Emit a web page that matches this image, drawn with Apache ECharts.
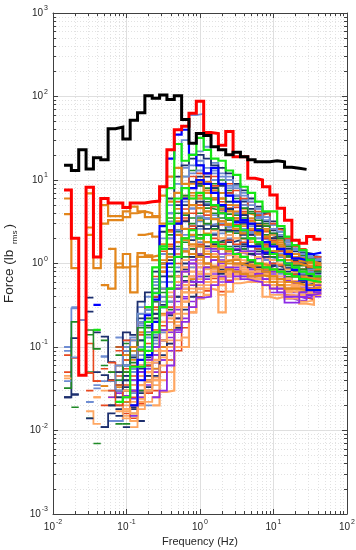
<!DOCTYPE html>
<html>
<head>
  <meta charset="utf-8" />
  <title>Force spectra, 1/3 octave bands</title>
  <script src="https://cdn.jsdelivr.net/npm/echarts@6/dist/echarts.min.js"></script>
  <style>
    html, body { margin: 0; padding: 0; background: #fff; }
    #chart { width: 356px; height: 550px; }
  </style>
</head>
<body>
  <div id="chart"></div>
  <script type="text/javascript">
    const _ = null;

    // 1/3 octave band edges (Hz), band centres 0.016 ... 40 Hz
    const bandEdges = [0.01413, 0.01778, 0.02239, 0.02818, 0.03548, 0.04467, 0.05623, 0.07079, 0.08913,
      0.1122, 0.1413, 0.1778, 0.2239, 0.2818, 0.3548, 0.4467, 0.5623, 0.7079, 0.8913,
      1.122, 1.413, 1.778, 2.239, 2.818, 3.548, 4.467, 5.623, 7.079, 8.913,
      11.22, 14.13, 17.78, 22.39, 28.18, 35.48, 44.67];

    // axis decades and minor steps
    const xDecades = [0.01, 0.1, 1, 10];
    const yDecades = [0.001, 0.01, 0.1, 1, 10, 100];
    const minorSteps = [2, 3, 4, 5, 6, 7, 8, 9];

    // force levels per band (lb rms), null = no value
    const black = [15, 13, 23, 13.5, 18.5, 17.5, 41, 43, 31, 52,
      64, 102, 95, 104, 92, 102, 53, 27.5, 36, 34,
      25, 23, 20, 21.5, 19, 17.5, 16.5, 16.5, 17, 16.5,
      14.2, 13.8, 13.4];
    const red = [7.6, 2.0, 0.046, 8.2, 1.2, 6.0, 5.3, 5.3, 4.7, 5.3,
      5.3, 5.5, 5.6, 8.3, 23, 40, 44, 63, 88, 37,
      36, 26, 38, 19, 19, 10.5, 10, 8.3, 6.6, 4.6,
      3.3, 1.9, 1.75, 2.1, 1.95];

    const orange1 = [6.0, _, _, 6.9, 0.88, 5.0, 3.7, 3.7, 4.2, 4.8,
      4.2, 3.6, 3.6, 6.5, 11, 14, 9, 8, 9.5, 7,
      6, 4.5, 4.2, 3.5, 3.1, 2.6, 2.3, 2.1, 1.8, 1.6,
      1.4, 1.3, 1.15, 1.05, 1.0];
    const orange2 = [3.9, 0.88, _, 2.7, _, 3.0, 3.3, 3.3, 3.6, 4.0,
      4.2, 4.0, 3.7, 3.0, 5.5, 7, 6, 5, 4.6, 4.2,
      3.4, 3.2, 2.9, 2.6, 2.3, 2.0, 1.8, 1.6, 1.4, 1.25,
      1.1, 1.0, 0.95, 0.9, 0.88];
    const orange3 = [_, _, _, 2.2, _, _, _, _, _, _,
      2.2, 2.3, 2.1, 1.7, 2.4, 3.2, 2.6, 2.2, 2.0, 1.8,
      1.6, 1.5, 1.4, 1.3, 1.2, 1.1, 1.0, 0.95, 0.85, 0.8,
      0.75, 0.7, 0.68, 0.66, 0.64];
    const orange4 = [_, _, _, _, _, 0.55, 0.5, 1.0, 0.9, 0.45,
      1.2, 1.2, 1.25, 1.0, 1.6, 2.2, 2.0, 1.7, 1.6, 1.3,
      1.2, 1.05, 1.1, 1.0, 0.95, 0.9, 0.85, 0.8, 0.7, 0.65,
      0.6, 0.58, 0.55, 0.55, 0.6];
    const orange5 = [_, _, _, _, _, _, 1.5, 0.9, 1.3, 0.92,
      1.33, 1.25, 1.1, 0.8, 1.2, 1.8, 1.4, 1.3, 1.2, 1.0,
      0.9, 0.8, 0.85, 0.8, 0.75, 0.7, 0.72, 0.7, 0.6, 0.55,
      0.5, 0.5, 0.48, 0.5, 0.52];

    const blue1 = [_, _, _, _, _, _, _, _, _, 0.02,
      0.07, 0.24, 0.37, 2.8, 18, 35, 40, 20, 15, 12,
      14, 9, 6.5, 5.5, 3.3, 3.0, 2.5, 1.8, 1.6, 1.5,
      1.3, 1.15, 1.1, 1.3, 1.35];
    const blue2 = [_, _, _, _, 0.32, _, _, _, _, _,
      0.04, 0.08, 0.2, 0.3, 1.0, 3, 6, 8, 10, 9,
      7, 5, 3.5, 3.1, 3.1, 1.6, 1.6, 1.35, 1.3, 1.1,
      1.0, 0.84, 0.63, 0.48, 0.48];
    const green1 = [_, _, _, _, _, _, _, _, _, _,
      _, 0.3, 0.9, 1.6, 8, 27, 17, 20, 32, 23,
      18, 17, 13, 11.5, 8.3, 7, 5.5, 4.2, 4.2, 2.8,
      2.1, 1.66, 1.45, 1.1, 0.9];
    const green2 = [_, _, _, _, _, _, _, _, _, _,
      0.093, 0.2, 0.44, 1.5, 3, 6, 8, 6, 7, 6,
      5, 4, 3.5, 2.8, 2.5, 2.0, 1.8, 1.5, 1.3, 1.1,
      1.0, 0.9, 0.8, 0.75, 0.7];
    const green3 = [_, _, _, _, 0.16, _, _, 0.022, 0.025, 0.058,
      0.058, 0.09, 0.15, 0.3, 0.5, 1.2, 2.0, 2.5, 2.0, 2.2,
      1.8, 1.6, 1.5, 1.3, 1.2, 1.1, 1.0, 0.9, 0.85, 0.8,
      0.75, 0.7, 0.65, 0.62, 0.6];

    const purple1 = [_, _, _, _, _, _, _, _, _, _,
      _, _, 0.025, 0.03, 0.06, 0.16, 0.2, 0.3, 0.39, 0.4,
      0.55, 0.7, 0.6, 0.8, 0.7, 0.7, 0.75, 0.65, 0.6, 0.5,
      0.34, 0.34, 0.45, 0.5, 0.45];
    const purple2 = [_, _, _, _, _, _, _, _, _, 0.03,
      0.05, 0.07, 0.1, 0.16, 0.26, 0.5, 0.8, 1.0, 0.6, 0.9,
      1.1, 0.8, 0.9, 0.7, 0.65, 0.62, 0.6, 0.55, 0.5, 0.45,
      0.4, 0.4, 0.38, 0.42, 0.44];
    const peach1 = [_, _, _, _, _, _, _, _, _, _,
      _, _, 0.02, 0.029, 0.03, 0.1, 0.1, 0.26, 0.38, 0.42,
      0.6, 0.26, 0.46, 0.58, 0.6, 0.6, 0.6, 0.4, 0.38, 0.4,
      0.42, 0.4, 0.33, 0.32, 0.42];
    const peach2 = [_, _, _, _, _, _, _, _, _, _,
      _, 0.03, 0.04, 0.06, 0.1, 0.18, 0.35, 0.45, 0.5, 0.5,
      0.48, 0.55, 0.7, 0.75, 0.7, 0.65, 0.7, 0.55, 0.5, 0.5,
      0.47, 0.45, 0.5, 0.45, 0.5];
    const peach3 = [_, _, _, _, _, _, _, _, _, 0.02,
      0.035, 0.05, 0.09, 0.12, 0.22, 0.6, 0.9, 0.8, 1.0, 0.75,
      0.85, 0.9, 0.8, 0.95, 0.85, 0.8, 0.75, 0.75, 0.65, 0.6,
      0.55, 0.52, 0.55, 0.6, 0.58];
    const peach4 = [_, _, _, _, _, _, _, _, 0.018, 0.016,
      0.022, 0.04, 0.07, 0.2, 0.4, 0.3, 0.55, 0.7, 0.75, 0.6,
      0.7, 0.65, 0.75, 0.65, 0.8, 0.75, 0.65, 0.6, 0.55, 0.55,
      0.5, 0.48, 0.42, 0.45, 0.46];

    // the dense bundle of records
    const rec01 = [0.1, 0.29, _, _, _, 0.077, _, 0.13, 0.12, 0.13,
      0.3, 0.4, 0.65, 2.0, 5, 9, 30, 60, 62, 25,
      16, 12, 11, 8.5, 7, 5.5, 4.5, 3.6, 2.9, 2.4,
      1.9, 1.6, 1.35, 1.25, 1.2];
    const rec02 = [0.025, 0.128, _, 0.39, _, 0.133, 0.066, _, 0.09, 0.1,
      0.22, 0.28, 0.4, 1.0, 2.5, 5, 8, 9.5, 11, 11,
      10, 8.5, 7, 6.5, 5.5, 4.5, 3.6, 3.2, 2.5, 2.1,
      1.6, 1.4, 1.2, 1.1, 1.05];
    const rec03 = [0.08, _, _, 0.11, 0.039, _, _, 0.05, 0.07, 0.06,
      0.14, 0.2, 0.3, 0.8, 1.7, 3, 4.5, 6, 6.5, 7,
      7.5, 5.5, 5, 4.7, 4.2, 3.3, 2.9, 2.4, 1.9, 1.6,
      1.35, 1.15, 1.0, 0.93, 0.95];
    const rec04 = [0.032, 0.2, _, 0.16, 0.095, _, _, _, 0.05, 0.055,
      0.1, 0.15, 0.2, 0.5, 0.9, 1.6, 2.6, 3.5, 4.0, 4.6,
      4.4, 3.5, 3.9, 3.2, 3.1, 2.6, 2.3, 2.1, 1.4, 1.4,
      1.1, 0.95, 0.85, 0.8, 0.84];
    const rec05 = [0.039, _, _, 0.022, _, 0.039, _, 0.04, 0.045, 0.04,
      0.08, 0.1, 0.14, 0.3, 0.6, 0.9, 1.5, 2.1, 2.6, 2.9,
      3.0, 2.3, 2.7, 2.4, 2.3, 2.0, 1.8, 1.7, 1.2, 1.1,
      0.9, 0.8, 0.7, 0.7, 0.75];
    const rec06 = [_, _, _, 0.265, _, 0.046, 0.04, _, 0.033, 0.03,
      0.055, 0.075, 0.09, 0.2, 0.35, 0.5, 0.85, 1.2, 1.6, 1.8,
      2.2, 1.5, 1.8, 1.9, 1.7, 1.6, 1.5, 1.3, 0.95, 0.9,
      0.75, 0.7, 0.6, 0.58, 0.65];
    const rec07 = [_, _, _, _, _, _, 0.025, 0.028, 0.026, 0.024,
      0.04, 0.05, 0.065, 0.12, 0.2, 0.28, 0.5, 0.7, 1.0, 1.2,
      1.4, 1.0, 1.3, 1.35, 1.3, 1.25, 1.15, 1.1, 0.75, 0.7,
      0.62, 0.58, 0.52, 0.5, 0.6];
    const rec08 = [0.042, _, _, _, 0.025, _, 0.02, _, 0.02, 0.018,
      0.03, 0.038, 0.043, 0.075, 0.11, 0.16, 0.3, 0.45, 0.65, 0.75,
      0.95, 0.68, 0.9, 1.0, 1.05, 1.0, 0.95, 0.9, 0.6, 0.6,
      0.5, 0.5, 0.45, 0.43, 0.53];
    const rec09 = [_, 0.074, _, 0.049, _, _, _, _, 0.016, 0.014,
      0.021, 0.028, 0.03, 0.05, 0.07, 0.09, 0.17, 0.26, 0.4, 0.47,
      0.66, 0.46, 0.63, 0.74, 0.78, 0.78, 0.75, 0.74, 0.5, 0.49,
      0.42, 0.41, 0.39, 0.37, 0.47];
    const rec10 = [_, 0.019, _, _, 0.007, _, _, 0.1, 0.11, 0.09,
      0.25, 0.3, 0.5, 1.5, 3.5, 7, 11, 13, 15, 8,
      9, 10, 7.5, 6, 5, 4.2, 3.8, 3.0, 2.6, 2.0,
      1.8, 1.5, 1.25, 1.15, 1.1];
    const rec11 = [_, _, _, _, _, 0.034, _, 0.06, 0.07, 0.09,
      0.15, 0.22, 0.35, 0.9, 2.0, 3.5, 6, 7, 5, 6,
      7.5, 6, 4.5, 4.0, 4.5, 3.5, 3.0, 2.5, 2.2, 1.9,
      1.4, 1.2, 1.05, 1.0, 0.95];
    const rec12 = [_, _, _, _, 0.032, _, 0.013, 0.013, 0.025, 0.035,
      0.07, 0.09, 0.12, 0.35, 0.7, 1.2, 2.0, 2.6, 3.2, 3.4,
      3.8, 3.0, 2.2, 2.6, 2.6, 2.3, 2.0, 1.5, 1.4, 1.2,
      1.0, 0.9, 0.78, 0.75, 0.7];
    const rec13 = [_, _, _, 0.014, _, 0.011, _, 0.018, 0.022, 0.02,
      0.035, 0.06, 0.1, 0.16, 0.4, 0.7, 1.0, 1.5, 2.0, 2.2,
      1.8, 1.9, 2.0, 1.6, 1.5, 1.4, 1.6, 1.4, 1.0, 0.95,
      0.8, 0.75, 0.68, 0.65, 0.7];
    const rec14 = [_, _, _, _, _, 0.03, _, 0.017, 0.014, 0.013,
      0.025, 0.03, 0.05, 0.09, 0.15, 0.2, 0.35, 0.55, 0.8, 0.9,
      1.2, 0.8, 1.1, 1.2, 1.2, 1.1, 0.95, 0.85, 0.7, 0.65,
      0.55, 0.52, 0.48, 0.47, 0.55];
    const rec15 = [_, _, _, _, _, _, 0.065, 0.045, 0.055, 0.05,
      0.1, 0.15, 0.22, 0.5, 1.2, 2.2, 3.5, 4, 5, 4.2,
      4.8, 4.3, 3.3, 3.3, 3.0, 2.9, 2.4, 2.0, 1.6, 1.5,
      1.2, 1.0, 0.85, 0.82, 0.85];
    const rec16 = [_, _, _, _, _, _, _, _, _, _,
      0.045, 0.04, 0.055, 0.1, 0.15, 0.22, 0.38, 0.55, 0.7, 0.65,
      0.8, 0.6, 0.75, 0.85, 0.9, 0.85, 0.8, 0.8, 0.55, 0.5,
      0.45, 0.45, 0.42, 0.4, 0.5];
    const rec17 = [_, _, _, 0.14, _, _, _, 0.08, _, 0.075,
      0.12, 0.17, 0.25, 0.6, 1.3, 2.4, 3.8, 5.0, 6.0, 5.5,
      6.0, 4.8, 4.4, 3.8, 3.5, 3.0, 2.6, 2.2, 1.7, 1.6,
      1.25, 1.05, 0.95, 0.88, 0.9];
    const rec18 = [_, _, _, _, 0.025, _, _, 0.02, 0.03, 0.028,
      0.05, 0.065, 0.08, 0.15, 0.25, 0.4, 0.6, 0.9, 1.3, 1.4,
      1.6, 1.2, 1.5, 1.5, 1.4, 1.3, 1.2, 1.15, 0.85, 0.8,
      0.68, 0.62, 0.56, 0.55, 0.62];
    const rec19 = [_, _, _, 0.022, _, _, 0.013, _, 0.1, 0.08,
      0.18, 0.25, 0.45, 1.3, 3.2, 5.5, 9, 12, 13, 12,
      12, 9, 8.5, 6.5, 5.8, 5.0, 4.0, 3.3, 2.6, 2.2,
      1.7, 1.45, 1.2, 1.12, 1.1];
    const rec20 = [_, 0.027, _, _, _, _, 0.04, 0.025, 0.15, 0.14,
      0.35, 0.45, 0.8, 2.4, 6, 11, 15, 18, 20, 18,
      15, 14, 12, 9, 7.5, 6, 4.8, 4.0, 3.2, 2.6,
      2.0, 1.6, 1.35, 1.3, 1.2];
    const rec21 = [_, _, 0.21, _, 0.039, _, 0.04, _, 0.07, 0.045,
      0.14, 0.11, 0.25, 0.4, 1.2, 1.3, 3.3, 2.6, 5.5, 3.5,
      5.8, 2.9, 4.6, 2.6, 3.8, 2.2, 2.8, 1.7, 1.8, 1.1,
      1.35, 0.8, 1.2, 0.75, 1.0];
    const rec22 = [_, _, _, 0.05, _, 0.12, _, 0.035, 0.03, 0.04,
      0.05, 0.09, 0.07, 0.25, 0.28, 0.6, 0.7, 1.5, 1.3, 2.2,
      1.5, 1.8, 1.6, 2.3, 1.5, 2.0, 1.3, 1.6, 0.8, 1.1,
      0.7, 0.85, 0.55, 0.7, 0.6];
    const rec23 = [_, _, _, _, _, _, 0.05, 0.033, 0.05, 0.035,
      0.1, 0.08, 0.16, 0.25, 0.7, 0.7, 1.9, 1.6, 3.3, 2.3,
      3.4, 2.0, 3.0, 2.0, 2.8, 1.8, 2.2, 1.4, 1.4, 0.95,
      1.1, 0.7, 0.95, 0.62, 0.85];
    const rec24 = [_, 0.075, _, _, 0.035, _, 0.03, 0.06, 0.08, 0.055,
      0.19, 0.15, 0.35, 0.6, 2.0, 2.2, 5.5, 4.6, 8.5, 5.2,
      8.0, 4.4, 6.5, 4.0, 5.0, 2.8, 3.6, 2.0, 2.3, 1.3,
      1.6, 1.0, 1.2, 0.85, 1.0];
    const rec25 = [_, _, _, _, _, 0.011, 0.016, _, 0.03, 0.019,
      0.05, 0.04, 0.08, 0.1, 0.24, 0.22, 0.62, 0.6, 1.25, 0.9,
      1.7, 0.85, 1.5, 1.1, 1.6, 1.05, 1.4, 0.9, 0.95, 0.6,
      0.75, 0.5, 0.65, 0.45, 0.6];
    const rec26 = [_, _, _, _, _, _, _, 0.03, 0.017, 0.022,
      0.024, 0.045, 0.035, 0.09, 0.09, 0.2, 0.25, 0.5, 0.55, 0.85,
      0.8, 0.8, 0.8, 1.15, 0.9, 1.1, 0.8, 1.0, 0.55, 0.7,
      0.45, 0.56, 0.42, 0.5, 0.48];
    const rec27 = [_, _, _, _, _, _, _, _, _, 0.035,
      0.03, 0.06, 0.05, 0.12, 0.13, 0.3, 0.4, 0.6, 0.7, 1.0,
      0.9, 1.1, 0.7, 1.0, 0.8, 0.95, 0.7, 0.85, 0.5, 0.55,
      0.4, 0.42, 0.36, 0.45, 0.4];
    const rec28 = [_, _, _, _, _, _, _, 0.1, 0.08, 0.12,
      0.2, 0.3, 0.4, 1.4, 2.5, 5.5, 6.5, 11, 9, 12,
      8.5, 9, 7, 7.5, 5, 5.5, 3.8, 4.0, 2.6, 2.5,
      1.8, 1.6, 1.3, 1.2, 1.15];
    const rec29 = [_, _, _, _, _, _, _, _, 0.05, 0.065,
      0.09, 0.14, 0.15, 0.45, 0.7, 1.5, 1.8, 3.0, 3.5, 3.0,
      4.0, 2.5, 3.3, 2.5, 3.0, 2.0, 2.4, 1.6, 1.7, 1.2,
      1.2, 0.95, 0.95, 0.75, 0.8];
    const rec30 = [_, _, 0.21, _, _, _, _, 0.022, 0.04, 0.028,
      0.06, 0.055, 0.11, 0.15, 0.35, 0.4, 0.9, 0.9, 1.8, 1.3,
      2.3, 1.2, 2.0, 1.5, 2.0, 1.3, 1.7, 1.1, 1.15, 0.75,
      0.85, 0.6, 0.75, 0.55, 0.65];
    const rec31 = [_, _, _, _, _, _, 0.02, _, 0.06, 0.075,
      0.12, 0.18, 0.22, 0.7, 1.1, 2.5, 3.2, 5.0, 5.5, 5.0,
      6.0, 4.0, 4.5, 3.2, 3.8, 2.5, 3.0, 2.0, 2.1, 1.4,
      1.5, 1.1, 1.1, 0.9, 0.92];
    const rec32 = [_, _, _, _, _, _, _, _, 0.025, 0.02,
      0.045, 0.05, 0.065, 0.1, 0.2, 0.25, 0.5, 0.65, 1.1, 0.9,
      1.3, 0.95, 1.25, 1.2, 1.35, 1.1, 1.2, 0.95, 0.8, 0.65,
      0.65, 0.55, 0.55, 0.5, 0.56];
    const rec33 = [_, _, _, _, _, _, _, _, 0.08, 0.07,
      0.15, 0.2, 0.28, 0.9, 1.5, 3.0, 4.0, 6.5, 6.0, 7.5,
      6.0, 6.0, 5.0, 5.0, 4.0, 3.8, 2.9, 2.8, 2.0, 1.8,
      1.4, 1.3, 1.1, 1.0, 0.95];
    const rec34 = [_, _, _, _, _, _, _, _, _, _,
      0.025, 0.03, 0.04, 0.07, 0.09, 0.15, 0.22, 0.35, 0.5, 0.6,
      0.75, 0.55, 0.7, 0.8, 0.75, 0.8, 0.7, 0.65, 0.45, 0.45,
      0.38, 0.36, 0.4, 0.38, 0.43];
    const rec35 = [_, _, _, _, _, _, _, _, 0.09, 0.12,
      0.25, 0.28, 0.55, 1.6, 4.0, 7, 11, 15, 17, 14,
      13, 11, 10, 8, 6.5, 5.5, 4.5, 3.6, 2.9, 2.4,
      1.9, 1.5, 1.3, 1.2, 1.15];
    const rec36 = [_, _, _, 0.049, _, _, 0.03, 0.02, 0.035, 0.04,
      0.06, 0.07, 0.1, 0.18, 0.3, 0.5, 0.8, 1.0, 1.7, 1.6,
      2.0, 1.7, 1.9, 1.7, 1.8, 1.6, 1.5, 1.35, 1.0, 0.95,
      0.75, 0.72, 0.62, 0.6, 0.68];
    const rec37 = [0.025, _, _, _, 0.05, _, _, 0.03, 0.045, 0.05,
      0.07, 0.1, 0.13, 0.32, 0.5, 0.8, 1.4, 1.9, 2.8, 2.6,
      2.8, 2.5, 2.5, 2.5, 2.2, 2.2, 1.7, 1.6, 1.2, 1.1,
      0.88, 0.8, 0.72, 0.7, 0.76];
    const rec38 = [_, _, _, _, _, _, _, _, _, 0.011,
      0.018, 0.022, 0.025, 0.04, 0.05, 0.12, 0.13, 0.3, 0.45, 0.55,
      0.7, 0.42, 0.6, 0.7, 0.75, 0.7, 0.65, 0.6, 0.42, 0.42,
      0.38, 0.38, 0.35, 0.36, 0.44];
    const rec39 = [_, _, _, _, _, _, _, 0.04, 0.06, 0.1,
      0.17, 0.22, 0.35, 1.0, 2.2, 4.0, 6.5, 8.0, 8.5, 9.0,
      8.0, 7.0, 5.5, 5.5, 4.6, 4.0, 3.3, 2.8, 2.3, 2.0,
      1.6, 1.3, 1.15, 1.05, 1.0];
    const rec40 = [_, _, _, _, _, 0.034, _, _, 0.022, 0.03,
      0.035, 0.045, 0.055, 0.1, 0.16, 0.3, 0.45, 0.65, 0.9, 1.0,
      1.1, 0.9, 1.0, 1.1, 1.0, 0.95, 0.9, 0.85, 0.65, 0.6,
      0.55, 0.5, 0.5, 0.5, 0.55];
    const rec41 = [_, 0.3, _, _, _, _, _, _, 0.06, 0.05,
      0.1, 0.13, 0.2, 0.4, 0.8, 1.5, 2.2, 2.8, 3.7, 3.5,
      3.5, 3.2, 2.8, 2.8, 2.4, 2.3, 2.0, 1.9, 1.3, 1.25,
      1.0, 0.9, 0.8, 0.78, 0.8];
    const rec42 = [_, _, _, _, _, _, _, _, _, 0.04,
      0.035, 0.055, 0.08, 0.2, 0.25, 0.55, 0.6, 1.1, 1.3, 1.5,
      1.5, 1.3, 1.4, 1.5, 1.4, 1.4, 1.3, 1.2, 0.8, 0.8,
      0.6, 0.6, 0.55, 0.5, 0.55];
    const rec43 = [_, _, _, _, _, _, _, 0.015, _, 0.02,
      0.028, 0.033, 0.045, 0.08, 0.11, 0.17, 0.28, 0.4, 0.6, 0.7,
      0.9, 0.75, 0.85, 0.95, 1.0, 0.9, 0.9, 0.8, 0.6, 0.55,
      0.5, 0.48, 0.45, 0.42, 0.5];
    const rec44 = [_, _, _, _, _, _, _, _, 0.03, 0.035,
      0.06, 0.08, 0.1, 0.24, 0.45, 0.7, 1.1, 1.6, 2.0, 2.2,
      2.5, 2.0, 2.2, 2.0, 1.9, 1.8, 1.6, 1.5, 1.1, 1.0,
      0.85, 0.78, 0.7, 0.65, 0.7];

    // records with every other band missing
    const frag01 = [_, _, _, _, _, _, _, 0.03, _, 0.05,
      _, 0.1, _, 0.5, _, 2.5, _, 4.5, _, 6,
      _, 5, _, 3.5, _, 2.4, _, 1.8, _, 1.2,
      _, 0.9, _, 0.8, _];
    const frag02 = [_, _, _, _, _, _, 0.02, _, 0.04, _,
      0.07, _, 0.25, _, 1.5, _, 5, _, 9, _,
      8, _, 5.5, _, 3.8, _, 2.8, _, 2.0, _,
      1.3, _, 1.0, _, 0.9];
    const frag03 = [_, _, _, _, _, 0.02, _, 0.035, _, 0.03,
      _, 0.06, _, 0.2, _, 1.0, _, 2.8, _, 3.8,
      _, 3.2, _, 2.9, _, 2.5, _, 2.0, _, 1.4,
      _, 1.05, _, 0.9, _];
    const frag04 = [_, _, _, _, _, _, 0.05, _, 0.012, _,
      0.03, _, 0.1, _, 0.5, _, 1.2, _, 2.2, _,
      2.6, _, 2.4, _, 2.0, _, 1.7, _, 1.2, _,
      0.95, _, 0.85, _, 0.8];
    const frag05 = [_, _, _, _, _, _, _, _, _, 0.1,
      _, 0.3, _, 1.1, _, 4.5, _, 9, _, 9.5,
      _, 7, _, 4.2, _, 3.2, _, 2.6, _, 1.7,
      _, 1.3, _, 1.1, _];
    const frag06 = [_, _, _, _, _, _, _, _, 0.03, _,
      0.02, _, 0.04, _, 0.12, _, 0.45, _, 0.9, _,
      1.3, _, 1.1, _, 1.1, _, 1.0, _, 0.7, _,
      0.6, _, 0.55, _, 0.6];
    const frag07 = [_, _, _, _, _, _, _, _, _, 0.015,
      _, 0.035, _, 0.07, _, 0.35, _, 0.6, _, 0.75,
      _, 0.9, _, 0.9, _, 0.85, _, 0.8, _, 0.6,
      _, 0.5, _, 0.45, _];
    const frag08 = [_, _, _, _, _, _, _, _, 0.06, _,
      0.2, _, 0.6, _, 4, _, 14, _, 22, _,
      10, _, 8, _, 5, _, 3.5, _, 2.6, _,
      1.8, _, 1.4, _, 1.1];
    const frag09 = [_, _, _, _, _, _, _, 0.05, _, 0.018,
      _, 0.045, _, 0.12, _, 0.4, _, 1.2, _, 1.6,
      _, 1.5, _, 1.45, _, 1.3, _, 1.2, _, 0.85,
      _, 0.7, _, 0.6, _];
    const frag10 = [_, _, _, _, _, _, _, _, 0.12, _,
      0.09, _, 0.7, _, 2.5, _, 9, _, 12, _,
      11, _, 9, _, 6, _, 4.2, _, 3.0, _,
      2.0, _, 1.5, _, 1.2];

    // scattered low-frequency band values
    const dash1 = [0.09, _, _, 0.022, _, 0.077, _, 0.02, _, 0.015, _, 0.02];
    const dash2 = [_, 0.027, _, _, 0.15, _, 0.04, _, 0.011, _, 0.013];
    const dash3 = [0.032, _, _, 0.014, _, 0.06, _, 0.012, _, 0.016, _, 0.03];
    const dash4 = [0.05, _, _, 0.03, _, 0.055, _, 0.09, _, 0.025, _, 0.04];
    const dash5 = [0.045, _, _, 0.017, 0.012, _, 0.025, _, 0.015, _, 0.02];

    // colours
    const steel = '#6F8DD3', navy = '#1D2F6E', dkgreen = '#1F8A26', redor = '#E8481F',
      orange = '#E2861C', peach = '#FFA762', purple = '#8C2BE6';

    // draw order: bundle first, outlines and envelopes last
    const lines = [
      [dash1, steel, 1.8], [dash2, navy, 1.8], [dash3, dkgreen, 1.6], [dash4, redor, 1.6], [dash5, peach, 1.8],
      [rec01, steel, 1.8], [rec02, navy, 1.8], [rec03, redor, 1.6], [rec04, dkgreen, 1.6],
      [rec05, steel, 1.8], [rec06, navy, 1.8], [rec07, purple, 1.6], [rec08, peach, 1.8],
      [rec09, redor, 1.6], [rec10, dkgreen, 1.6], [rec11, orange, 1.8], [rec12, steel, 1.8],
      [rec13, navy, 1.8], [rec14, peach, 1.8], [rec15, redor, 1.6], [rec16, purple, 1.6],
      [rec17, dkgreen, 1.6], [rec18, peach, 1.8], [rec19, steel, 1.8], [rec20, navy, 1.8],
      [rec21, redor, 1.6], [rec22, dkgreen, 1.6], [rec23, orange, 1.8], [rec24, steel, 1.8],
      [rec25, navy, 1.8], [rec26, peach, 1.8], [rec27, purple, 1.6], [rec28, redor, 1.6],
      [rec29, dkgreen, 1.6], [rec30, steel, 1.8], [rec31, navy, 1.8], [rec32, peach, 1.8],
      [rec33, orange, 1.8], [rec34, purple, 1.6], [rec35, steel, 1.8], [rec36, redor, 1.6],
      [rec37, navy, 1.8], [rec38, peach, 1.8], [rec39, dkgreen, 1.6], [rec40, orange, 1.8],
      [rec41, steel, 1.8], [rec42, purple, 1.6], [rec43, navy, 1.8], [rec44, peach, 1.8],
      [frag01, steel, 1.8], [frag02, navy, 1.8], [frag03, redor, 1.6], [frag04, dkgreen, 1.6],
      [frag05, orange, 1.8], [frag06, peach, 1.8], [frag07, purple, 1.6], [frag08, steel, 1.8],
      [frag09, navy, 1.8], [frag10, redor, 1.6],
      [peach1, peach, 2.2], [peach2, peach, 2.2], [peach3, peach, 2.2], [peach4, peach, 2.2],
      [purple1, purple, 1.8], [purple2, purple, 1.8],
      [orange1, orange, 2.2], [orange2, orange, 2.2], [orange3, orange, 2.2],
      [orange4, orange, 2.2], [orange5, orange, 2.2],
      [blue1, '#0000FF', 2.2], [blue2, '#0000FF', 2.2],
      [green1, '#14E614', 2.2], [green2, '#14E614', 2.2], [green3, '#14E614', 2.2],
      [red, '#FF0000', 3], [black, '#000000', 3]
    ];

    // band values -> stair points on the band edges
    function stairs(vals) {
      const pts = [];
      vals.forEach(function (v, i) {
        if (v == null) {
          if (pts.length && pts[pts.length - 1][1] !== '-') pts.push([bandEdges[i], '-']);
          return;
        }
        pts.push([bandEdges[i], v], [bandEdges[i + 1], v]);
      });
      return pts;
    }

    const minorX = xDecades.flatMap(d => minorSteps.map(s => Math.log10(d * s)));
    const minorY = yDecades.flatMap(d => minorSteps.map(s => Math.log10(d * s)));

    const font = 'Liberation Sans, Arial, Helvetica, sans-serif';
    const axisColor = '#404040';
    const textColor = '#262626';

    function powLabel(v) {
      return '{b|10}{e|' + Math.round(Math.log10(v)) + '}';
    }
    const powRich = {
      b: { fontSize: 10, lineHeight: 16, color: textColor, fontFamily: font },
      e: { fontSize: 7, lineHeight: 7, verticalAlign: 'top', color: textColor, fontFamily: font, padding: [0, 0, 0, 1] }
    };

    const chart = echarts.init(document.getElementById('chart'));

    const option = {
      animation: false,
      backgroundColor: '#fff',
      grid: { left: 53, right: 9, top: 13, bottom: 36, containLabel: false, outerBoundsMode: 'none' },
      xAxis: [
        {
          type: 'log', logBase: 10, min: 0.01, max: 100, position: 'bottom',
          axisLine: { show: true, onZero: false, lineStyle: { color: axisColor, width: 1 } },
          axisTick: { show: true, inside: true, length: 5, lineStyle: { color: axisColor } },
          axisLabel: { formatter: powLabel, rich: powRich, margin: 5, showMinLabel: true, showMaxLabel: true, hideOverlap: false },
          splitLine: { show: true, lineStyle: { color: '#DFDFDF', width: 1 } },
          name: 'Frequency (Hz)', nameLocation: 'middle', nameGap: 20,
          nameTextStyle: { fontSize: 11, color: textColor, fontFamily: font }
        },
        {
          type: 'value', min: -2, max: 2, position: 'bottom',
          axisLine: { show: false, onZero: false },
          axisTick: { show: true, inside: true, length: 3, customValues: minorX, lineStyle: { color: axisColor } },
          axisLabel: { show: false },
          splitLine: { show: true, lineStyle: { color: '#E2E2E2', width: 1, type: [1, 2] } }
        },
        {
          type: 'log', logBase: 10, min: 0.01, max: 100, position: 'top',
          axisLine: { show: true, onZero: false, lineStyle: { color: axisColor, width: 1 } },
          axisTick: { show: true, inside: true, length: 5, lineStyle: { color: axisColor } },
          axisLabel: { show: false }, splitLine: { show: false }
        },
        {
          type: 'value', min: -2, max: 2, position: 'top',
          axisLine: { show: false, onZero: false },
          axisTick: { show: true, inside: true, length: 3, customValues: minorX, lineStyle: { color: axisColor } },
          axisLabel: { show: false }, splitLine: { show: false }
        }
      ],
      yAxis: [
        {
          type: 'log', logBase: 10, min: 0.001, max: 1000, position: 'left',
          axisLine: { show: true, onZero: false, lineStyle: { color: axisColor, width: 1 } },
          axisTick: { show: true, inside: true, length: 5, lineStyle: { color: axisColor } },
          axisLabel: { formatter: powLabel, rich: powRich, margin: 5, showMinLabel: true, showMaxLabel: true, hideOverlap: false },
          splitLine: { show: true, lineStyle: { color: '#DFDFDF', width: 1 } },
          name: '{a|Force (lb }{s|rms}{a|)}', nameLocation: 'middle', nameGap: 29, nameRotate: 90,
          nameTextStyle: {
            fontSize: 13.5, color: textColor, fontFamily: font,
            rich: {
              a: { fontSize: 13.5, lineHeight: 18, color: textColor, fontFamily: font },
              s: { fontSize: 8, lineHeight: 8, verticalAlign: 'bottom', color: textColor, fontFamily: font, padding: [0, 2, 0, 2] }
            }
          }
        },
        {
          type: 'value', min: -3, max: 3, position: 'left',
          axisLine: { show: false, onZero: false },
          axisTick: { show: true, inside: true, length: 3, customValues: minorY, lineStyle: { color: axisColor } },
          axisLabel: { show: false },
          splitLine: { show: true, lineStyle: { color: '#E2E2E2', width: 1, type: [1, 2] } }
        },
        {
          type: 'log', logBase: 10, min: 0.001, max: 1000, position: 'right',
          axisLine: { show: true, onZero: false, lineStyle: { color: axisColor, width: 1 } },
          axisTick: { show: true, inside: true, length: 5, lineStyle: { color: axisColor } },
          axisLabel: { show: false }, splitLine: { show: false }
        },
        {
          type: 'value', min: -3, max: 3, position: 'right',
          axisLine: { show: false, onZero: false },
          axisTick: { show: true, inside: true, length: 3, customValues: minorY, lineStyle: { color: axisColor } },
          axisLabel: { show: false }, splitLine: { show: false }
        }
      ],
      series: lines.map(function (l) {
        return {
          type: 'line',
          xAxisIndex: 0,
          yAxisIndex: 0,
          data: stairs(l[0]),
          showSymbol: false,
          symbol: 'none',
          silent: true,
          connectNulls: false,
          lineStyle: { color: l[1], width: l[2], cap: 'butt', join: 'miter' },
          itemStyle: { color: l[1] }
        };
      })
    };

    chart.setOption(option);
  </script>
</body>
</html>
